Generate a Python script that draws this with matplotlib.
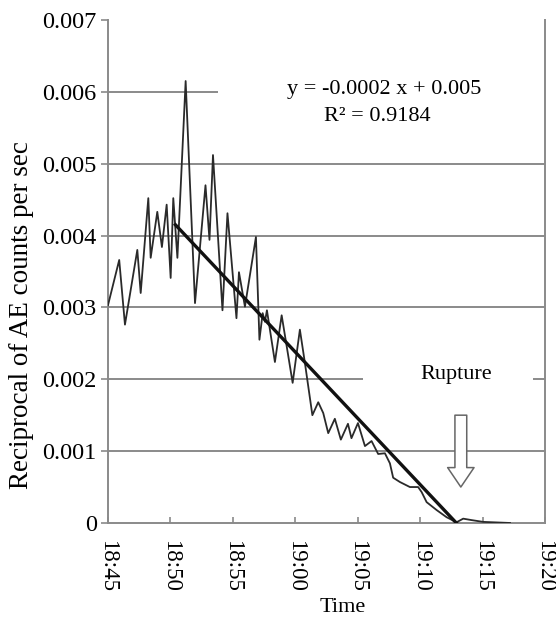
import matplotlib
matplotlib.use("Agg")
import matplotlib.pyplot as plt
from matplotlib.patches import Rectangle
import numpy as np

plt.rcParams['font.family'] = ['Liberation Serif', 'DejaVu Serif']

# Minutes after 18:45 and reciprocal AE count rate (counts per sec)^-1
minutes = [0.0, 0.9, 1.36, 2.35, 2.62, 3.23, 3.42, 3.95, 4.32, 4.70, 5.02, 5.23,
           5.56, 6.22, 6.97, 7.81, 8.13, 8.41, 9.17, 9.57, 10.29, 10.49, 10.97,
           11.85, 12.13, 12.39, 12.57, 12.73, 13.37, 13.91, 14.79, 15.37, 15.77,
           16.37, 16.84, 17.24, 17.64, 18.17, 18.65, 19.22, 19.50, 20.02, 20.58,
           21.11, 21.64, 22.18, 22.58, 22.84, 23.38, 24.18, 24.84, 25.12, 25.52,
           26.32, 27.12, 27.92, 28.45, 29.12, 30.05, 32.2]
reciprocal = [0.00303, 0.00366, 0.00276, 0.00380, 0.00320, 0.00452, 0.00369,
              0.00433, 0.00384, 0.00443, 0.00341, 0.00452, 0.00369, 0.00615,
              0.00306, 0.00470, 0.00394, 0.00512, 0.00296, 0.00431, 0.00285,
              0.00349, 0.00301, 0.00398, 0.00255, 0.00292, 0.00280, 0.00296,
              0.00224, 0.00289, 0.00195, 0.00269, 0.00223, 0.00150, 0.00168,
              0.00153, 0.00125, 0.00145, 0.00116, 0.00138, 0.00118, 0.00139,
              0.00107, 0.00114, 0.00096, 0.00097, 0.00083, 0.00063, 0.00057,
              0.00050, 0.00050, 0.00043, 0.00029, 0.00018, 0.00008, 0.00001,
              0.00006, 0.00004, 0.000015, 0.0]

# Linear trend through the accelerating phase
trend_minutes = [5.4, 27.9]
trend_values = [0.00415, 0.0]

rupture_minute = 28.26

x_ticks = [0, 5, 10, 15, 20, 25, 30, 35]
x_tick_labels = ["18:45", "18:50", "18:55", "19:00", "19:05", "19:10", "19:15", "19:20"]
y_ticks = [0, 0.001, 0.002, 0.003, 0.004, 0.005, 0.006, 0.007]
y_tick_labels = ["0", "0.001", "0.002", "0.003", "0.004", "0.005", "0.006", "0.007"]

fig = plt.figure(figsize=(5.56, 6.20), dpi=100)
ax = fig.add_axes([0.1942, 0.1565, 0.786, 0.8113])

grid_c = "#8a8a8a"
text_c = "#000000"
ax.set_xlim(0, 35)
ax.set_ylim(0, 0.007)

for yv in y_ticks[1:-1]:
    ax.axhline(yv, color=grid_c, lw=1.4, zorder=1)

# text boxes sit on top of the grid
ax.add_patch(Rectangle((8.8, 0.0054), 27, 0.0015, facecolor="white",
                       edgecolor="none", zorder=2))
ax.add_patch(Rectangle((20.4, 0.00185), 13.6, 0.0005, facecolor="white",
                       edgecolor="none", zorder=2))

ax.plot(minutes, reciprocal, color="#2a2a2a", lw=1.3, zorder=4)
ax.plot(trend_minutes, trend_values, color="#111111", lw=2.4, zorder=5)

ax.text(22.14, 0.00603, "y = -0.0002 x + 0.005", ha="center", va="center",
        fontsize=16, color=text_c, zorder=6)
ax.text(21.57, 0.00565, "R² = 0.9184", ha="center", va="center",
        fontsize=16, color=text_c, zorder=6)
ax.text(27.9, 0.00207, "Rupture", ha="center", va="center",
        fontsize=16, color=text_c, zorder=6)

ax.annotate("", xy=(rupture_minute, 0.00050), xytext=(rupture_minute, 0.00150),
            arrowprops=dict(arrowstyle="simple,head_length=14,head_width=19,tail_width=8.5",
                            mutation_scale=1, facecolor="white",
                            edgecolor="#666666", lw=1.1, shrinkA=0, shrinkB=0),
            zorder=6)

ax.set_xticks(x_ticks)
ax.set_xticklabels(x_tick_labels, rotation=-90, fontsize=16.5, color=text_c)
ax.set_yticks(y_ticks)
ax.set_yticklabels(y_tick_labels, fontsize=17.5, color=text_c)
ax.tick_params(axis="x", direction="in", length=4, width=1.2, color=grid_c, pad=12)
ax.tick_params(axis="y", direction="out", length=5, width=1.2, color=grid_c, pad=3)

for side in ["left", "bottom", "right"]:
    ax.spines[side].set_color(grid_c)
    ax.spines[side].set_linewidth(1.4)
ax.spines["top"].set_visible(False)

ax.set_xlabel("Time", fontsize=16, color=text_c)
ax.xaxis.set_label_coords(0.538, -0.15)
ax.set_ylabel("Reciprocal of AE counts per sec", fontsize=19.5, color=text_c)
ax.yaxis.set_label_coords(-0.17, 0.414)

fig.savefig("out.png", dpi=100)
